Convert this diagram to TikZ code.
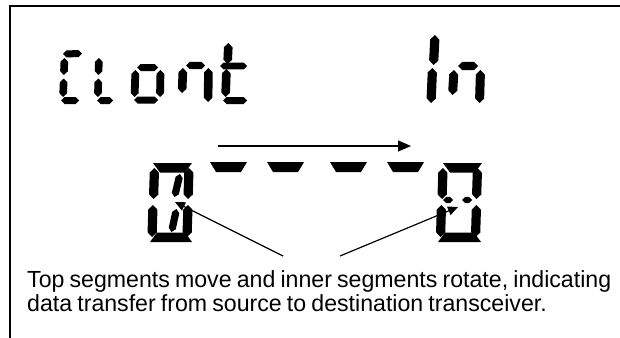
\documentclass[tikz,border=0pt]{standalone}
\usepackage{fontspec}
\setmainfont{Liberation Sans}[WordSpace=0.8]
\usepackage{graphicx}
\usetikzlibrary{calc,arrows.meta}
% segment: optional half width, two tip points
\newcommand\sg[3][3.5]{%
  \fill ($#2$) -- ($#2!#1pt!#3!#1pt!90:#3$) -- ($#3!#1pt!#2!#1pt!-90:#2$)
    -- ($#3$) -- ($#3!#1pt!#2!#1pt!90:#2$) -- ($#2!#1pt!#3!#1pt!-90:#3$) -- cycle;}
% bar: x-left top, x-right top, y top, x-left bottom, x-right bottom, y bottom
\newcommand\sbar[6]{\fill (#1,#3) -- (#2,#3) -- (#5,#6) -- (#4,#6) -- cycle;}
\begin{document}
\begin{tikzpicture}[x=1pt,y=-1pt,
  frame/.style={line width=2.3pt},
  leader/.style={line width=1.2pt,-{Triangle[length=10pt,width=9pt]}},
  topline/.style={line width=1.3pt,-{Triangle[length=13pt,width=11pt]}}]
\useasboundingbox (0,0) rectangle (620,337);
\fill[white] (0,0) rectangle (620,337);
% frame (only top and left visible)
\coordinate (fb) at (10,340);
\coordinate (fc) at (10,6);
\coordinate (fr) at (622,6);
\draw[frame] (fb) -- (fc) -- (fr);
% ---- top row "Clant  In"
% C
\sg[3.5]{(63,54)}{(82,53.5)}
\sg[3.8]{(64.5,58)}{(63.8,75)}
\sg[3.8]{(63.8,78.5)}{(63,97)}
\sg[3.5]{(61,100.5)}{(79,100.5)}
% L
\sg[3.8]{(99,58)}{(98.4,75)}
\sg[3.8]{(98.4,78.5)}{(97.8,97)}
\sg[3.5]{(97,100.5)}{(113,100.5)}
% o
\sg[3.5]{(137,67.5)}{(158,67.5)}
\sg[3.9]{(135.5,70)}{(134.5,97)}
\sg[3.9]{(160.5,70)}{(160,97)}
\sg[3.5]{(134,100)}{(158,100)}
% n
\sg[3.7]{(186,65.5)}{(205,65.5)}
\sg[4.3]{(183,68)}{(182,93)}
\sg[4.3]{(208.5,68)}{(208,102)}
% t
\sg[4.3]{(228.5,43)}{(227.5,64)}
\sg[3.3]{(220,66)}{(247,66)}
\sg[4.3]{(226.5,69)}{(225.5,97)}
\sg[3.5]{(223,100.5)}{(247,100.5)}
% I
\sg[4.6]{(435,35)}{(433.5,65)}
\sg[4.6]{(432.5,68)}{(431,103)}
% n
\sg[4.2]{(458,66)}{(478,66)}
\sg[4.5]{(454,70)}{(452.5,95)}
\sg[4.5]{(480.5,70)}{(479.5,103)}
% ---- moving arrow and top dashes
\coordinate (aS) at (218,146);
\coordinate (aE) at (411,146);
\draw[topline] (aS) -- (aE);
\sbar{210}{247}{162}{216}{241}{172}
\sbar{267}{304}{162}{273}{298}{172}
\sbar{330}{367}{162}{336}{361}{172}
\sbar{387}{424}{162}{393}{418}{172}
% ---- left digit
\sbar{153}{192}{163}{160}{185}{172.5}
\sg[4.6]{(154.5,168)}{(153.5,199)}
\sg[4.6]{(189,168)}{(188,199)}
\sg[3.6]{(180,174)}{(174.5,197)}
\sg[4.6]{(153,205)}{(152,237)}
\sg[4.6]{(188,205)}{(187,237)}
\sg[3.6]{(176.5,209)}{(171.5,232)}
\sbar{157}{185}{232.5}{150}{192}{242}
% ---- right digit
\sbar{443}{482}{163}{450}{475}{172.5}
\sg[4.6]{(443,168)}{(442,199)}
\sg[4.6]{(477.5,168)}{(476.5,199)}
\sg[3.2]{(443,200)}{(453,200)}
\sg[3.2]{(462,200)}{(472,200)}
\sg[4.6]{(441.5,205)}{(440.5,237)}
\sg[4.6]{(476.5,205)}{(475.5,237)}
\sbar{445}{474}{232.5}{438}{481}{242}
% ---- leaders
\coordinate (lS) at (283,256);
\coordinate (lE) at (175,202);
\coordinate (rS) at (340,256);
\coordinate (rE) at (458,207);
\draw[leader] (lS) -- (lE);
\draw[leader] (rS) -- (rE);
% ---- caption
\node[anchor=base west,inner sep=0pt,font=\fontsize{23.3}{24}\selectfont] (txt) at (27,287)
 {\resizebox{584pt}{\height}{\begin{tabular}[t]{@{}l@{}}Top segments move and inner segments rotate, indicating\\
 data transfer from source to destination transceiver.\end{tabular}}};
\end{tikzpicture}
\end{document}
